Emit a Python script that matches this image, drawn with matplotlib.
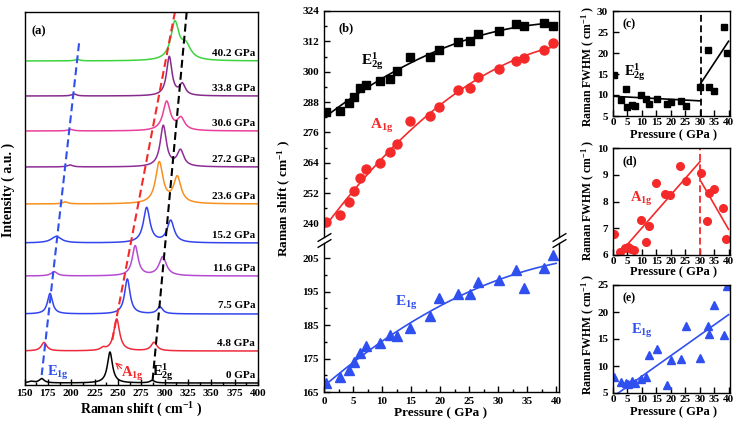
import numpy as np
import matplotlib
matplotlib.use('Agg')
import matplotlib.pyplot as plt
from matplotlib.ticker import MultipleLocator

plt.rcParams['font.family'] = ['Liberation Serif', 'DejaVu Serif']
plt.rcParams['font.weight'] = 'bold'
plt.rcParams['axes.labelweight'] = 'bold'
plt.rcParams['mathtext.fontset'] = 'custom'
plt.rcParams['mathtext.rm'] = 'Liberation Serif:bold'
plt.rcParams['mathtext.it'] = 'Liberation Serif:bold'
plt.rcParams['mathtext.bf'] = 'Liberation Serif:bold'
plt.rcParams['xtick.direction'] = 'in'
plt.rcParams['ytick.direction'] = 'in'
plt.rcParams['axes.linewidth'] = 1.0

# (a) Raman spectra: peaks as (centre cm-1, height, fwhm)
spec_labels = ['0 GPa', '4.8 GPa', '7.5 GPa', '11.6 GPa', '15.2 GPa',
               '23.6 GPa', '27.2 GPa', '30.6 GPa', '33.8 GPa', '40.2 GPa']
spec_offsets = [1.5, 33.5, 70.5, 108.5, 141.5, 180.5, 217.5, 253.5, 288.5, 323.5]
spec_peaks = [
    [(157, 1.5, 7), (168.4, 4.3, 6.5), (241.5, 31, 6.5), (286.8, 2.5, 6)],
    [(170.9, 8.5, 7), (234, 2.5, 6), (248.7, 32, 7.5), (288.7, 8.5, 7.5)],
    [(177.3, 20.5, 6.5), (260.1, 35, 7), (295, 7, 7)],
    [(181.8, 4.3, 8), (268.5, 30, 7.5), (298, 19, 9.5)],
    [(184, 6.5, 13), (280.8, 35, 8.5), (306.5, 22, 9)],
    [(193.5, 2, 7), (294.3, 41, 9.5), (313.6, 26, 9.5)],
    [(198.7, 2, 7), (298.6, 41, 8), (317, 16, 8.5)],
    [(199.5, 1.5, 7), (302.2, 29, 9.5), (317.5, 12, 9.5)],
    [(203, 2, 6), (305, 39, 7), (319, 11, 7.5)],
    [(206.7, 1.5, 6), (311, 37, 10.5), (322.6, 14, 13)],
]
spec_colors = ['black', '#ee2a3c', '#3344ee', '#b64bd2', '#3344ee',
               '#f7901e', '#8e2d96', '#ea3f9a', '#862a8c', '#3fd33f']

# dashed guide lines in (a): (x0, x1), (y0, y1)
guide_e1g = ([208.4, 168.4], [341.2, 9.5])
guide_a1g = ([311.1, 244.0], [372.8, 44.5])
guide_e2g = ([323.7, 286.8], [372.8, 0.5])

# (b) peak positions vs pressure
press_b = [0.3, 2.7, 4.3, 5.1, 6.2, 7.3, 9.6, 11.3, 12.5, 14.9,
           18.2, 19.9, 23.1, 25.2, 26.5, 30.1, 33.1, 34.5, 37.9, 39.4]
e2g_shift = [283.9, 284.6, 287.5, 290.1, 293.4, 294.8, 296.4, 297.0, 300.1, 305.7,
             305.9, 308.6, 311.6, 312.1, 314.9, 316.2, 318.9, 317.9, 319.3, 318.1]
a1g_shift = [240.5, 243.5, 248.4, 252.7, 257.9, 261.4, 263.9, 268.3, 271.3, 280.5,
             282.4, 285.9, 292.8, 293.7, 297.8, 301.2, 304.3, 305.3, 308.7, 311.3]
e1g_shift = [167.7, 169.5, 171.7, 174.0, 176.6, 178.6, 179.7, 181.9, 181.6, 184.1,
             187.7, 193.0, 194.4, 194.4, 198.0, 198.5, 201.5, 196.0, 202.0, 205.8]

# (c) E2g FWHM
press_c = [0.3, 2.6, 4.6, 4.9, 6.5, 7.7, 9.7, 11.5, 12.6, 15.1,
           18.6, 20.1, 23.5, 25.4, 30.1, 32.9, 33.4, 35.0, 38.3, 39.5]
fwhm_c = [14.7, 8.7, 11.4, 7.1, 7.7, 7.5, 10.1, 9.1, 7.8, 9.1,
          7.9, 8.3, 8.5, 7.4, 11.8, 20.8, 11.9, 10.9, 26.1, 20.1]
fit_c1 = ([0, 30.3], [9.7, 8.6])
fit_c2 = ([30.3, 40], [12.7, 22.8])
split_c = 30.3

# (d) A1g FWHM
press_d = [0.45, 2.4, 4.3, 5.1, 6.2, 7.3, 9.6, 11.5, 12.6, 14.9,
           18.1, 19.8, 23.2, 25.2, 30.3, 32.6, 33.3, 34.9, 38.1, 39.2]
fwhm_d = [6.77, 6.12, 6.28, 6.3, 6.22, 6.2, 7.31, 6.5, 7.08, 8.68,
          8.27, 8.24, 9.33, 8.78, 9.05, 7.27, 8.3, 8.45, 7.77, 6.58]
fit_d1 = ([0, 30.1], [5.78, 9.49])
fit_d2 = ([30.5, 40], [8.74, 6.96])
split_d = 30.1

# (e) E1g FWHM
press_e = [0.3, 2.6, 4.6, 5.1, 6.5, 7.7, 9.7, 11.5, 12.6, 15.1,
           18.6, 20.1, 23.5, 25.4, 30.1, 32.9, 33.4, 35.0, 38.3, 39.5]
fwhm_e = [7.9, 7.1, 6.9, 6.6, 7.3, 6.8, 7.6, 7.9, 12.0, 13.2,
          6.5, 11.2, 11.3, 17.4, 11.5, 17.4, 16.0, 21.3, 15.7, 24.8]
fit_e = ([0, 40], [4.3, 19.5])

RED = '#f42a2a'
BLUE = '#2f50ee'

fig = plt.figure(figsize=(7.36, 4.21), dpi=100)
W, H = 736.0, 421.0


def box(x0, y0, x1, y1):
    return [x0 / W, 1 - y1 / H, (x1 - x0) / W, (y1 - y0) / H]


def style(ax, size=8):
    ax.tick_params(which='both', direction='in', labelsize=size, width=1)
    ax.tick_params(which='major', length=4)
    ax.tick_params(which='minor', length=2)
    for t in ax.get_xticklabels() + ax.get_yticklabels():
        t.set_fontweight('bold')


# ---------- (a) ----------
ax = fig.add_axes(box(24.5, 12, 258, 384.5))
x = np.linspace(150, 400, 1501)
for lab, off, peaks, col in zip(spec_labels, spec_offsets, spec_peaks, spec_colors):
    y = np.full_like(x, off)
    for c, h, w in peaks:
        y += h / (1 + ((x - c) / (w / 2)) ** 2)
    ax.plot(x, y, color=col, lw=1.1)
    ax.text(397, off + 8, lab, ha='right', va='center', fontsize=8, fontweight='bold')
for (gx, gy), col in zip([guide_e1g, guide_a1g, guide_e2g], [BLUE, RED, 'black']):
    ax.plot(gx, gy, color=col, lw=1.5, dashes=(3.8, 2))
ax.text(186, 12, r'E$_{1g}$', color=BLUE, fontsize=10.5, ha='center', va='center')
ax.text(266, 11, r'A$_{1g}$', color=RED, fontsize=10.5, ha='center', va='center')
ax.annotate('', xy=(245, 24), xytext=(256, 14),
            arrowprops=dict(arrowstyle='->', color=RED, lw=0.8))
ax.text(298, 12, r'E$^{1}_{2g}$', color='black', fontsize=10.5, ha='center', va='center')
ax.text(0.03, 0.965, '(a)', transform=ax.transAxes, fontsize=9, fontweight='bold', va='top')
ax.set_xlim(150, 400)
ax.set_ylim(0, 372.5)
ax.set_xticks(np.arange(150, 401, 25))
ax.xaxis.set_minor_locator(MultipleLocator(12.5))
ax.set_yticks([])
style(ax)
fig.text(141 / W, 1 - 410 / H, r'Raman shift ( cm$^{-1}$ )', ha='center', va='center', fontsize=10)
fig.text(8 / W, 1 - 190 / H, 'Intensity ( a.u. )', ha='center', va='center', fontsize=10, rotation=90)

# ---------- (b) ----------
axt = fig.add_axes(box(324, 11, 559, 237))
axb = fig.add_axes(box(324, 243, 559, 392))
pf = np.linspace(0, 40, 200)
axt.plot(press_b, e2g_shift, 's', color='black', ms=5.5)
axt.plot(pf, np.polyval(np.polyfit(press_b, e2g_shift, 2), pf), color='black', lw=1.2)
axt.plot(press_b, a1g_shift, 'o', color=RED, ms=6.5)
axt.plot(pf, np.polyval(np.polyfit(press_b, a1g_shift, 2), pf), color=RED, lw=1.2)
axb.plot(press_b, e1g_shift, '^', color=BLUE, ms=7)
axb.plot(pf, np.polyval(np.polyfit(press_b, e1g_shift, 2), pf), color=BLUE, lw=1.2)
axt.set_ylim(234.6, 324)
axb.set_ylim(165, 209.5)
for a in (axt, axb):
    a.set_xlim(0, 40.5)
    a.xaxis.set_major_locator(MultipleLocator(5))
    a.xaxis.set_minor_locator(MultipleLocator(2.5))
axt.set_yticks(np.arange(240, 325, 12))
axt.yaxis.set_minor_locator(MultipleLocator(6))
axb.set_yticks(np.arange(165, 206, 10))
axb.yaxis.set_minor_locator(MultipleLocator(5))
axt.spines['bottom'].set_visible(False)
axb.spines['top'].set_visible(False)
axt.tick_params(axis='x', which='both', bottom=False, labelbottom=False)
style(axt)
style(axb)
kw = dict(marker=[(-1, -0.6), (1, 0.6)], markersize=10, linestyle='none',
          color='k', mec='k', mew=1, clip_on=False)
axt.plot([0, 1], [0, 0], transform=axt.transAxes, **kw)
axb.plot([0, 1], [1, 1], transform=axb.transAxes, **kw)
axt.text(8.3, 304, r'E$^{1}_{2g}$', fontsize=11, ha='center', va='center')
axt.text(10.0, 278.7, r'A$_{1g}$', color=RED, fontsize=11, ha='center', va='center')
axb.text(14.2, 191.7, r'E$_{1g}$', color=BLUE, fontsize=11, ha='center', va='center')
axt.text(0.06, 0.95, '(b)', transform=axt.transAxes, fontsize=9, fontweight='bold', va='top')
fig.text(441 / W, 1 - 413 / H, 'Pressure ( GPa )', ha='center', va='center', fontsize=9.5)
fig.text(284 / W, 1 - 198 / H, r'Raman shift ( cm$^{-1}$ )', ha='center', va='center',
         fontsize=9.5, rotation=90)


# ---------- (c), (d), (e) ----------
def fwhm_panel(y0, y1, ylim, step, lab, px, fw, fits, split, col, marker, ms,
               txt, txt_pos, ylab_y, xlab_y):
    a = fig.add_axes(box(613, y0, 730, y1))
    a.plot(px, fw, marker, color=col, ms=ms, linestyle='none')
    for fx, fy in fits:
        a.plot(fx, fy, color=col, lw=1.2)
    if split is not None:
        a.axvline(split, color=col, lw=1.3, dashes=(3.8, 2))
    a.set_xlim(0, 40.5)
    a.set_ylim(*ylim)
    a.set_xticks(np.arange(0, 41, 5))
    a.set_yticks(np.arange(ylim[0], ylim[1] + 0.01, step))
    style(a, 8)
    a.tick_params(axis='x', pad=1.5)
    a.text(txt_pos[0], txt_pos[1], txt, color=col, fontsize=10.5, ha='center', va='center')
    a.text(0.08, 0.93, lab, transform=a.transAxes, fontsize=8.5, fontweight='bold', va='top')
    fig.text(673 / W, 1 - xlab_y / H, 'Pressure ( GPa )', ha='center', va='center', fontsize=9)
    fig.text(588 / W, 1 - ylab_y / H, r'Raman FWHM ( cm$^{-1}$ )', ha='center', va='center',
             fontsize=8.5, rotation=90)
    return a


fwhm_panel(11, 116, (5, 30), 5, '(c)', press_c, fwhm_c, [fit_c1, fit_c2], split_c,
           'black', 's', 5, r'E$^{1}_{2g}$', (7.5, 15.5), 66, 135)
fwhm_panel(148, 255, (6, 10), 1, '(d)', press_d, fwhm_d, [fit_d1, fit_d2], split_d,
           RED, 'o', 5.5, r'A$_{1g}$', (10, 8.1), 200, 272)
fwhm_panel(285, 393, (5, 25), 5, '(e)', press_e, fwhm_e, [fit_e], None,
           BLUE, '^', 5.5, r'E$_{1g}$', (10, 16.4), 334, 412)

fig.savefig('out.png', dpi=100)
